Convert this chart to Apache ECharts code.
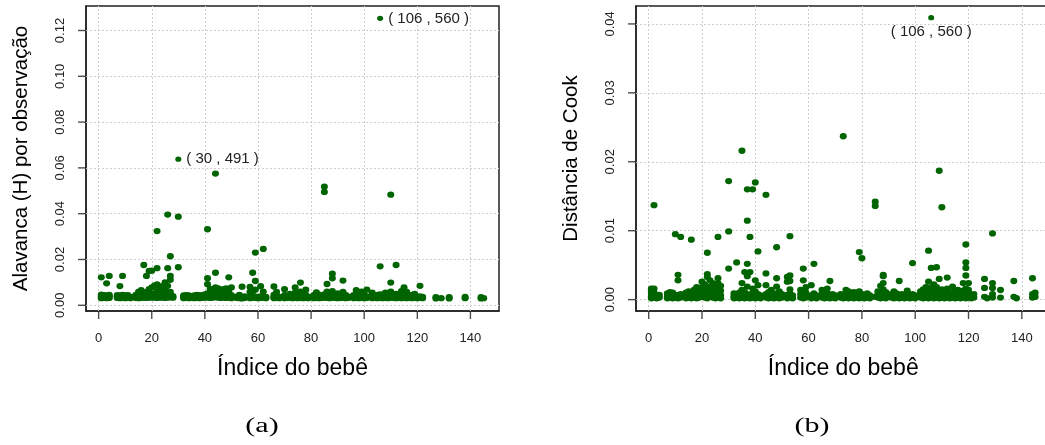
<!DOCTYPE html>
<html>
<head>
<meta charset="utf-8">
<title>Alavanca e distância de Cook por bebê</title>
<script src="https://cdn.jsdelivr.net/npm/echarts@6/dist/echarts.min.js"></script>
<style>
  html, body { margin: 0; padding: 0; background: #ffffff; }
  #chart { width: 1045px; height: 445px; }
</style>
</head>
<body>
<div id="chart"></div>
<script>
// Tick positions shared by both panels
const babyTicks = [0, 20, 40, 60, 80, 100, 120, 140];
const leverageTicks = [0, 0.02, 0.04, 0.06, 0.08, 0.10, 0.12];
const cookTicks = [0, 0.01, 0.02, 0.03, 0.04];

// Leverage (H) of each observation, grouped by baby index: [baby, [h, ...]]
const leverageByBaby = [
  [1, [.0031, .0036, .0041, .0046, .0122]], [2, [.0032, .0038, .0044]],
  [3, [.0031, .0037, .0043, .0096]], [4, [.0032, .0038, .0045, .0128]],
  [7, [.0032, .0038, .0044]], [8, [.0031, .0037, .0043, .0084]],
  [9, [.0032, .0038, .0045, .0128]], [10, [.0031, .0037, .0043]],
  [11, [.0032, .0038, .0044]], [12, [.0031, .0037]],
  [14, [.0032, .0038, .0045]], [15, [.0031, .0037, .0043, .0058]],
  [16, [.0032, .0039, .0047, .0066]], [17, [.0033, .0040, .0048, .0176]],
  [18, [.0032, .0038, .0046, .0058, .0128]], [19, [.0033, .0040, .0049, .0070, .0150]],
  [20, [.0034, .0042, .0051, .0078, .0151]], [21, [.0033, .0040, .0048, .0086]],
  [22, [.0032, .0039, .0047, .0062, .0091, .0162, .0324]], [23, [.0034, .0042, .0053, .0080]],
  [24, [.0033, .0041, .0050, .0068, .0084]], [25, [.0032, .0039, .0047, .0072, .0100]],
  [26, [.0033, .0041, .0055, .0085, .0162, .0396]], [27, [.0035, .0044, .0058, .0111, .0128, .0214]],
  [28, [.0033, .0040]], [30, [.0166, .0387]],
  [32, [.0031, .0037, .0043]], [33, [.0032, .0038, .0044]],
  [34, [.0031, .0037, .0043]], [35, [.0032, .0038]],
  [36, [.0031, .0037, .0043]], [37, [.0032, .0039, .0045]],
  [38, [.0031, .0037, .0043]], [39, [.0032, .0038, .0044]],
  [40, [.0033, .0040, .0047]], [41, [.0034, .0042, .0052, .0092, .0118, .0332]],
  [42, [.0032, .0038, .0072]], [43, [.0033, .0040, .0060]],
  [44, [.0036, .0048, .0062, .0078, .0142, .0575]], [45, [.0033, .0041, .0058, .0074]],
  [46, [.0032, .0039, .0048, .0066]], [47, [.0033, .0041, .0054, .0070]],
  [48, [.0032, .0038, .0046, .0074]], [49, [.0033, .0040, .0060, .0122]],
  [50, [.0031, .0037, .0044, .0078]], [52, [.0032, .0038]],
  [53, [.0031, .0037, .0045]], [54, [.0030, .0036, .0081]],
  [55, [.0032, .0039]], [57, [.0031, .0037, .0058, .0080]],
  [58, [.0033, .0040, .0060, .0142]], [59, [.0032, .0038, .0068, .0106, .0230]],
  [60, [.0031, .0037]], [61, [.0032, .0039, .0083]],
  [62, [.0033, .0040, .0060, .0246]], [63, [.0031, .0037]],
  [66, [.0031, .0037, .0045, .0082]], [67, [.0032, .0038, .0058]],
  [68, [.0031, .0037]], [70, [.0031, .0037, .0044, .0070]],
  [71, [.0032, .0039]], [72, [.0033, .0040, .0050]],
  [73, [.0031, .0037, .0044]], [74, [.0032, .0038, .0055, .0078]],
  [75, [.0031, .0037, .0045]], [76, [.0032, .0039, .0060, .0099]],
  [77, [.0031, .0037, .0052]], [78, [.0032, .0038, .0046, .0068]],
  [79, [.0031, .0037]], [81, [.0031, .0037, .0044]],
  [82, [.0032, .0039, .0056]], [83, [.0031, .0037, .0046]],
  [84, [.0032, .0038]], [85, [.0033, .0040, .0048, .0495, .0518]],
  [86, [.0032, .0039, .0060, .0093]], [87, [.0031, .0037, .0046]],
  [88, [.0033, .0041, .0062, .0118, .0138]], [89, [.0032, .0038, .0045]],
  [90, [.0031, .0037, .0052]], [91, [.0032, .0039, .0046]],
  [92, [.0033, .0040, .0058, .0108]], [93, [.0031, .0037, .0045]],
  [94, [.0032, .0038]], [96, [.0031, .0037, .0044]],
  [97, [.0032, .0039, .0066]], [98, [.0031, .0037, .0050]],
  [99, [.0032, .0038, .0060]], [100, [.0031, .0037, .0045]],
  [101, [.0032, .0039, .0068]], [103, [.0031, .0037, .0044, .0055]],
  [104, [.0032, .0038]], [105, [.0031, .0037, .0045]],
  [106, [.0032, .0039, .0048, .0170]], [107, [.0031, .0037, .0046]],
  [108, [.0032, .0038, .0055]], [109, [.0031, .0037, .0045]],
  [110, [.0033, .0041, .0060, .0099, .0483]], [111, [.0032, .0038, .0046]],
  [112, [.0031, .0037, .0050, .0176]], [113, [.0032, .0039, .0046]],
  [114, [.0031, .0037, .0062]], [115, [.0032, .0038, .0078]],
  [116, [.0031, .0037, .0046, .0058]], [117, [.0032, .0039]],
  [118, [.0031, .0037, .0045]], [119, [.0032, .0038, .0050]],
  [120, [.0031, .0037]], [121, [.0032, .0039, .0085]],
  [122, [.0031, .0037]], [127, [.0030, .0036]],
  [129, [.0031]], [132, [.0030, .0036]],
  [138, [.0031, .0037]], [144, [.0030, .0036]], [145, [.0031]]
];

// Cook's distance of each observation, grouped by baby index: [baby, [d, ...]]
const cookByBaby = [
  [1, [.0002, .0005, .0009, .0013, .0016]], [2, [.0003, .0007, .0011, .0016, .0137]],
  [3, [.0002, .0006]], [4, [.0003, .0007]],
  [7, [.0002, .0005, .0009]], [8, [.0003, .0007, .0011]],
  [9, [.0002, .0006, .0010]], [10, [.0003, .0007, .0095]],
  [11, [.0002, .0006, .0028, .0036]], [12, [.0003, .0008, .0091]],
  [14, [.0002, .0006, .0010]], [15, [.0003, .0007, .0012]],
  [16, [.0002, .0006, .0011, .0087]], [17, [.0003, .0008, .0014]],
  [18, [.0002, .0006, .0012, .0018]], [19, [.0003, .0009, .0016]],
  [20, [.0004, .0010, .0018, .0026]], [21, [.0003, .0008, .0015, .0022]],
  [22, [.0002, .0007, .0014, .0033, .0037, .0068]], [23, [.0004, .0010, .0019, .0028]],
  [24, [.0003, .0009, .0017, .0024]], [25, [.0002, .0007, .0015, .0021]],
  [26, [.0003, .0009, .0024, .0031, .0091]], [27, [.0002, .0006, .0013, .0020]],
  [30, [.0045, .0099, .0172]], [32, [.0002, .0005, .0009]],
  [33, [.0003, .0007, .0054]], [34, [.0002, .0006, .0010]],
  [35, [.0003, .0008, .0014, .0024, .0216]], [36, [.0002, .0006, .0011, .0040]],
  [37, [.0003, .0008, .0019, .0034, .0052, .01145, .0160]], [38, [.0002, .0007, .0040, .0091]],
  [39, [.0003, .0009, .0016, .0160]], [40, [.0002, .0006, .0012, .0028, .0170]],
  [41, [.0003, .0008, .0021, .0070]], [42, [.0002, .0006]],
  [44, [.0003, .0008, .0021, .0038, .0152]], [45, [.0002, .0006, .0011]],
  [46, [.0003, .0008, .0014]], [47, [.0002, .0007]],
  [48, [.0003, .0009, .0019, .0031, .0076]], [49, [.0002, .0006, .0012]],
  [50, [.0003, .0008]], [52, [.0002, .0007, .0026, .0033]],
  [53, [.0003, .0009, .0015, .0027, .0035, .0092]], [54, [.0002, .0006]],
  [57, [.0003, .0008, .0014]], [58, [.0002, .0007, .0028, .0045]],
  [59, [.0003, .0010, .0018]], [61, [.0002, .0006, .0021]],
  [62, [.0003, .0009, .0052]], [63, [.0002, .0006]],
  [65, [.0003, .0008, .0014]], [66, [.0002, .0006, .0011]],
  [67, [.0003, .0009, .0016]], [68, [.0002, .0007, .0027]],
  [69, [.0003, .0008]], [70, [.0002, .0006]],
  [72, [.0003, .0008]], [73, [.0002, .0007, .0237]],
  [74, [.0003, .0009, .0014]], [75, [.0002, .0006, .0012]],
  [76, [.0003, .0008]], [77, [.0002, .0007, .0011]],
  [78, [.0003, .0009]], [79, [.0002, .0006, .0012, .0069]],
  [80, [.0003, .0008, .0060]], [81, [.0002, .0007]],
  [82, [.0003, .0009]], [83, [.0002, .0006]],
  [85, [.0004, .0136, .0142]], [86, [.0003, .0008, .0012]],
  [87, [.0002, .0007, .0020]], [88, [.0003, .0009, .0015, .0024, .0034, .0036]],
  [89, [.0002, .0006, .0011]], [91, [.0003, .0008]],
  [92, [.0002, .0006, .0012]], [93, [.0003, .0009]],
  [94, [.0002, .0007, .0027]], [95, [.0003, .0008]],
  [96, [.0002, .0006]], [97, [.0003, .0009, .0013]],
  [98, [.0002, .0007]], [99, [.0003, .0008, .0053]],
  [100, [.0002, .0006]], [102, [.0003, .0008, .0012]],
  [103, [.0002, .0007, .0015]], [104, [.0003, .0009, .0018]],
  [105, [.0002, .0006, .0013, .0026, .0071]], [106, [.0003, .0008, .0017, .0046]],
  [107, [.0002, .0007, .0014, .0022]], [108, [.0003, .0009, .0018, .0047]],
  [109, [.0002, .0006, .0013, .0030, .0187]], [110, [.0003, .0008, .0015, .0134]],
  [111, [.0002, .0007, .0012]], [112, [.0003, .0009, .0016, .0032]],
  [113, [.0002, .0006, .0011]], [114, [.0003, .0008, .0019]],
  [115, [.0002, .0007, .0012]], [116, [.0003, .0009, .0014]],
  [117, [.0002, .0006, .0011]], [118, [.0003, .0008, .0013, .0024]],
  [119, [.0002, .0007, .0016, .0035, .0046, .0054, .0080]], [120, [.0003, .0009, .0014, .0024]],
  [121, [.0002, .0006]], [122, [.0003, .0008]],
  [126, [.0004, .0017, .0030]], [127, [.0002]],
  [129, [.0003, .0008, .0017, .0024, .0096]], [132, [.0003, .0014]],
  [137, [.0004, .0027]], [138, [.0002]],
  [144, [.0003, .0008, .0031]], [145, [.0004, .0010]]
];

// Identified observations: [baby, value, observation number]
const leverageFlagged = [[30, 0.0638, 491], [106, 0.1253, 560]];
const cookFlagged = [[106, 0.0409, 560]];

const GREEN = '#006400';
const FONT = '"Liberation Sans", Arial, Helvetica, sans-serif';
const SERIF = '"Liberation Serif", "Times New Roman", serif';
const BABY_RANGE = [-4.76, 150.76];
const LEVERAGE_RANGE = [-0.0025, 0.1307];
const COOK_RANGE = [-0.00165, 0.0426];
const TICK_LEN = 8;
const TICK_COLOR = '#222';

function toPairs(groups) {
  const out = [];
  groups.forEach(([baby, values]) => values.forEach(v => out.push([baby, v])));
  return out;
}

function gridLines(xs, ys) {
  return {
    silent: true,
    z: 1,
    animation: false,
    symbol: ['none', 'none'],
    label: { show: false },
    emphasis: { disabled: true },
    lineStyle: { type: [2, 2], color: '#cfcfcf', width: 1 },
    data: xs.map(v => ({ xAxis: v })).concat(ys.map(v => ({ yAxis: v })))
  };
}

// Short bars hanging off the plot frame at each tick value (outward ticks)
function xTickMarks(gridIndex, yRange) {
  return {
    type: 'scatter', xAxisIndex: gridIndex, yAxisIndex: gridIndex, silent: true, clip: false, z: 6,
    symbol: 'rect', symbolSize: [1.4, TICK_LEN], symbolOffset: [0, TICK_LEN / 2],
    itemStyle: { color: TICK_COLOR }, emphasis: { disabled: true },
    data: babyTicks.map(v => [v, yRange[0]])
  };
}
function yTickMarks(gridIndex, yTicks) {
  return {
    type: 'scatter', xAxisIndex: gridIndex, yAxisIndex: gridIndex, silent: true, clip: false, z: 6,
    symbol: 'rect', symbolSize: [TICK_LEN, 1.4], symbolOffset: [-TICK_LEN / 2, 0],
    itemStyle: { color: TICK_COLOR }, emphasis: { disabled: true },
    data: yTicks.map(v => [BABY_RANGE[0], v])
  };
}

const axisLineStyle = { show: true, onZero: false, lineStyle: { color: '#222', width: 1.5 } };

function xAxisFor(gridIndex) {
  return {
    type: 'value', gridIndex, position: 'bottom',
    min: BABY_RANGE[0], max: BABY_RANGE[1],
    name: 'Índice do bebê', nameLocation: 'middle', nameGap: 46,
    nameTextStyle: { fontSize: 23, color: '#000', fontFamily: FONT },
    axisLine: axisLineStyle,
    axisTick: { show: false },
    axisLabel: { customValues: babyTicks, margin: 21, fontSize: 13, color: '#222', fontFamily: FONT },
    splitLine: { show: false }
  };
}

function yAxisFor(gridIndex, range, ticks, title) {
  return {
    type: 'value', gridIndex, min: range[0], max: range[1], position: 'left',
    name: title, nameLocation: 'middle', nameGap: 54,
    nameTextStyle: { fontSize: 20.5, color: '#000', fontFamily: FONT },
    axisLine: axisLineStyle,
    axisTick: { show: false },
    axisLabel: {
      customValues: ticks, rotate: 90, margin: 19, fontSize: 13, color: '#222', fontFamily: FONT,
      formatter: v => Number(v).toFixed(2)
    },
    splitLine: { show: false }
  };
}

const pointStyle = { color: GREEN, opacity: 1 };
const flagLabel = (position, distance) => ({
  show: true, position, distance,
  fontSize: 15, color: '#222', fontFamily: FONT,
  formatter: p => '( ' + p.data[0] + ' , ' + p.data[2] + ' )'
});

const captions = [
  { id: 'cap-a', type: 'text', x: 262, y: 427, scaleX: 1.5,
    style: { text: '(a)', fontSize: 20, fontFamily: SERIF, fill: '#000', align: 'center', verticalAlign: 'middle' } },
  { id: 'cap-b', type: 'text', x: 812, y: 427, scaleX: 1.5,
    style: { text: '(b)', fontSize: 20, fontFamily: SERIF, fill: '#000', align: 'center', verticalAlign: 'middle' } }
];

const option = {
  animation: false,
  backgroundColor: '#ffffff',
  grid: [
    { left: 86, top: 6, width: 413, height: 305, show: true, borderColor: '#222', borderWidth: 1.5,
      backgroundColor: 'transparent', outerBoundsMode: 'none', containLabel: false },
    { left: 636, top: 6, width: 414.5, height: 305, show: true, borderColor: '#222', borderWidth: 1.5,
      backgroundColor: 'transparent', outerBoundsMode: 'none', containLabel: false }
  ],
  xAxis: [xAxisFor(0), xAxisFor(1)],
  yAxis: [
    yAxisFor(0, LEVERAGE_RANGE, leverageTicks, 'Alavanca (H) por observação'),
    yAxisFor(1, COOK_RANGE, cookTicks, 'Distância de Cook')
  ],
  series: [
    { type: 'scatter', xAxisIndex: 0, yAxisIndex: 0, data: [], z: 1, silent: true,
      markLine: gridLines(babyTicks, leverageTicks) },
    { type: 'scatter', xAxisIndex: 1, yAxisIndex: 1, data: [], z: 1, silent: true,
      markLine: gridLines(babyTicks, cookTicks) },
    xTickMarks(0, LEVERAGE_RANGE), yTickMarks(0, leverageTicks),
    xTickMarks(1, COOK_RANGE), yTickMarks(1, cookTicks),
    { type: 'scatter', xAxisIndex: 0, yAxisIndex: 0, z: 3, symbol: 'circle', symbolSize: [7, 6.3],
      itemStyle: pointStyle, data: toPairs(leverageByBaby) },
    { type: 'scatter', xAxisIndex: 1, yAxisIndex: 1, z: 3, symbol: 'circle', symbolSize: [7, 6.3],
      itemStyle: pointStyle, data: toPairs(cookByBaby) },
    { type: 'scatter', xAxisIndex: 0, yAxisIndex: 0, z: 4, symbol: 'circle', symbolSize: [6, 5.2],
      itemStyle: pointStyle, label: flagLabel('right', 5), data: leverageFlagged },
    { type: 'scatter', xAxisIndex: 1, yAxisIndex: 1, z: 4, symbol: 'circle', symbolSize: [6, 5.2],
      itemStyle: pointStyle, label: flagLabel('bottom', 4), data: cookFlagged }
  ],
  graphic: captions
};

const chart = echarts.init(document.getElementById('chart'), null, { renderer: 'canvas' });
chart.setOption(option);
</script>
</body>
</html>
